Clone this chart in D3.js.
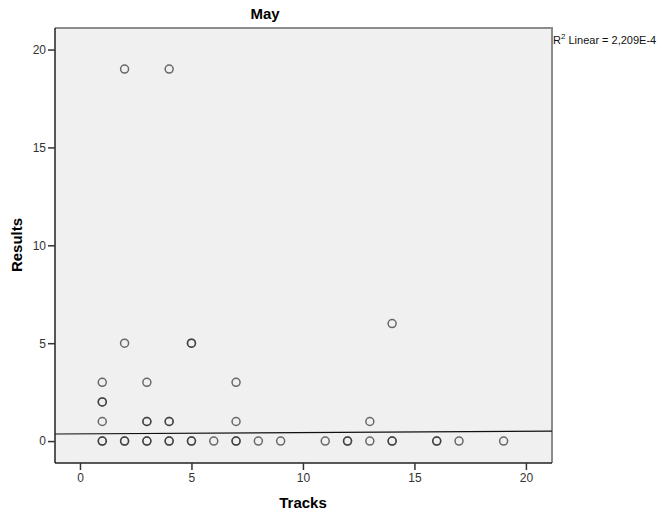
<!DOCTYPE html>
<html>
<head>
<meta charset="utf-8">
<script src="https://cdn.jsdelivr.net/npm/d3@7"></script>
<style>
  body { margin: 0; background: #fff; }
  text { font-family: "Liberation Sans", Arial, sans-serif; }
</style>
</head>
<body>
<svg id="chart" width="662" height="517"></svg>
<script>
// data (repeated pairs = overlapping markers)
const tracks  = [1,1,1,1,1,1, 2,2,2,2, 3,3,3,3,3, 4,4,4,4,4, 5,5,5,5, 6, 7,7,7,7, 8, 9, 11, 12,12, 13,13, 14,14,14, 16,16, 17, 19];
const results = [0,0,1,2,2,3, 0,0,5,19, 0,0,1,1,3, 0,0,1,1,19, 0,0,5,5, 0, 0,0,1,3, 0, 0, 0, 0,0, 0,1, 0,0,6, 0,0, 0, 0];
const xTicks = [0, 5, 10, 15, 20];
const yTicks = [0, 5, 10, 15, 20];
const fitIntercept = 0.37;
const fitSlope = 0.0067;
const r2Label = "2,209E-4";

const svg = d3.select("#chart");
const plotL = 55, plotR = 552, plotT = 28, plotB = 463;

const x = d3.scaleLinear().domain([-1.12, 21.17]).range([plotL, plotR]);
const y = d3.scaleLinear().domain([-1.12, 21.1]).range([plotB, plotT]);

// plot background
svg.append("rect")
  .attr("x", plotL).attr("y", plotT)
  .attr("width", plotR - plotL).attr("height", plotB - plotT)
  .attr("fill", "#f0f0f0");

// gray frame top/right
svg.append("path")
  .attr("d", `M${plotL},${plotT}H${plotR}V${plotB}`)
  .attr("fill", "none").attr("stroke", "#8c8c8c").attr("stroke-width", 2);

// fit line
const xd = x.domain();
svg.append("line")
  .attr("x1", x(xd[0])).attr("y1", y(fitIntercept + fitSlope * xd[0]))
  .attr("x2", x(xd[1])).attr("y2", y(fitIntercept + fitSlope * xd[1]))
  .attr("stroke", "#111").attr("stroke-width", 1.2);

// points
svg.append("g")
  .selectAll("circle")
  .data(tracks.map((t, i) => [t, results[i]]))
  .enter().append("circle")
  .attr("cx", d => x(d[0]))
  .attr("cy", d => y(d[1]))
  .attr("r", 4)
  .attr("fill", "none")
  .attr("stroke", "#333")
  .attr("stroke-opacity", 0.72)
  .attr("stroke-width", 1.5);

// axes
const xAxis = svg.append("g")
  .attr("transform", `translate(0,${plotB})`)
  .call(d3.axisBottom(x).tickValues(xTicks).tickSize(7).tickPadding(3).tickSizeOuter(0));
const yAxis = svg.append("g")
  .attr("transform", `translate(${plotL},0)`)
  .call(d3.axisLeft(y).tickValues(yTicks).tickSize(7).tickPadding(2).tickSizeOuter(0));

[xAxis, yAxis].forEach(a => {
  a.select(".domain").attr("stroke", "#222").attr("stroke-width", 1.5);
  a.selectAll(".tick line").attr("stroke", "#333").attr("stroke-width", 1.5);
  a.selectAll(".tick text").attr("fill", "#333").style("font-size", "12px")
    .style("font-family", "'Liberation Sans', Arial, sans-serif");
});
xAxis.select(".domain").attr("d", `M${plotL},0H${plotR}`);
yAxis.select(".domain").attr("d", `M0,${plotT}V${plotB}`);

// title
svg.append("text")
  .attr("x", 265).attr("y", 19)
  .attr("text-anchor", "middle")
  .style("font-size", "15px").style("font-weight", "bold")
  .text("May");

// axis titles
svg.append("text")
  .attr("x", 303).attr("y", 508)
  .attr("text-anchor", "middle")
  .style("font-size", "15px").style("font-weight", "bold")
  .text("Tracks");

svg.append("text")
  .attr("transform", "translate(22,245) rotate(-90)")
  .attr("text-anchor", "middle")
  .style("font-size", "15px").style("font-weight", "bold")
  .text("Results");

// R2 label
const r2 = svg.append("text")
  .attr("x", plotR + 1).attr("y", 44)
  .style("font-size", "11px").attr("fill", "#111");
r2.append("tspan").text("R");
r2.append("tspan").attr("dy", -5).style("font-size", "8px").text("2");
r2.append("tspan").attr("dy", 5).text(" Linear = " + r2Label);
</script>
</body>
</html>
